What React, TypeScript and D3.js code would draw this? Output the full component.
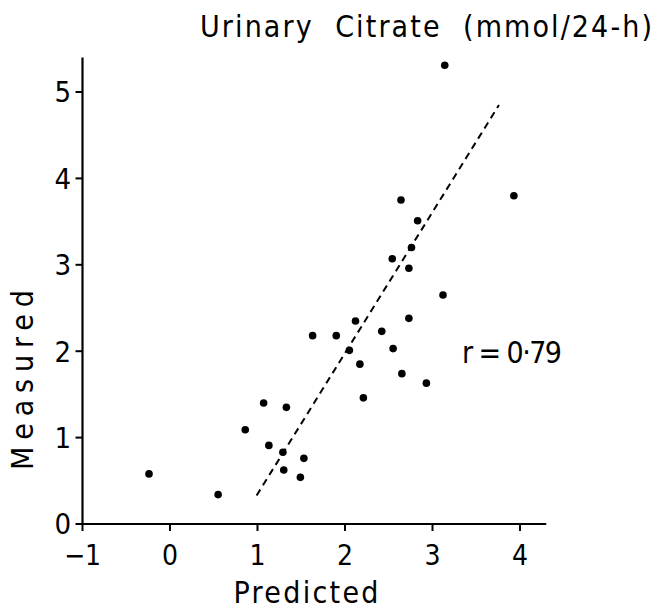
import React from "react";
import * as d3 from "d3";

const predicted = [3.14, 3.93, 2.64, 2.83, 2.76, 2.54, 2.73, 3.12, 2.73, 2.12, 1.63, 1.9, 2.42, 2.05, 2.55, 2.17, 2.65, 2.93, 2.21, 1.07, 1.33, 0.86, 1.13, 1.29, 1.53, 1.3, 1.49, -0.24, 0.55];
const measured = [5.31, 3.8, 3.75, 3.51, 3.2, 3.07, 2.96, 2.65, 2.38, 2.35, 2.18, 2.18, 2.23, 2.01, 2.03, 1.85, 1.74, 1.63, 1.46, 1.4, 1.35, 1.09, 0.91, 0.83, 0.76, 0.625, 0.54, 0.58, 0.34];
const regressionX = [0.99, 3.76];
const regressionY = [0.33, 4.85];
const xTicks = [-1, 0, 1, 2, 3, 4];
const yTicks = [0, 1, 2, 3, 4, 5];
const xTickLabels = ["\u22121", "0", "1", "2", "3", "4"];
const yTickLabels = ["0", "1", "2", "3", "4", "5"];
const title = "Urinary  Citrate  (mmol/24-h)";
const xLabel = "Predicted";
const yLabel = "Measured";
const annotation = "r = 0\u00b779";

const FONT = "'DejaVu Sans Condensed', 'DejaVu Sans', sans-serif";

export default function App() {
  const x = d3.scaleLinear().domain([-1, 4]).range([82.5, 520]);
  const y = d3.scaleLinear().domain([0, 5]).range([524, 92]);
  const xEnd = x(4.3);
  const yTop = y(5.4);
  const line = d3
    .line<number>()
    .x((d) => x(regressionX[d]))
    .y((d) => y(regressionY[d]));

  return (
    <svg
      width={657}
      height={610}
      style={{ position: "absolute", left: 0, top: 0, background: "#fff" }}
      fontFamily={FONT}
      fontStretch="condensed"
      fontWeight={300}
    >
      <rect width={657} height={610} fill="#fff" />
      <text x={200} y={37} fontSize={30} fill="#000" style={{ whiteSpace: "pre" }} textLength={452} lengthAdjust="spacing">
        {title}
      </text>
      {/* axes */}
      <line x1={x(-1)} x2={xEnd} y1={y(0)} y2={y(0)} stroke="#000" strokeWidth={2.2} />
      <line x1={x(-1)} x2={x(-1)} y1={y(0)} y2={yTop} stroke="#000" strokeWidth={2.2} />
      {xTicks.map((t, i) => (
        <g key={"xt" + t}>
          <line x1={x(t)} x2={x(t)} y1={y(0)} y2={y(0) + 7} stroke="#000" strokeWidth={2} />
          <text x={x(t)} y={565} fontSize={28} textAnchor="middle" fill="#000">
            {xTickLabels[i]}
          </text>
        </g>
      ))}
      {yTicks.map((t, i) => (
        <g key={"yt" + t}>
          <line x1={x(-1) - 7} x2={x(-1)} y1={y(t)} y2={y(t)} stroke="#000" strokeWidth={2} />
          <text x={71} y={y(t)} dy="0.36em" fontSize={29} textAnchor="end" fill="#000">
            {yTickLabels[i]}
          </text>
        </g>
      ))}
      <text x={306} y={603} fontSize={30} textAnchor="middle" fill="#000" textLength={145} lengthAdjust="spacing">
        {xLabel}
      </text>
      <text
        transform={`translate(33,${380}) rotate(-90)`}
        fontSize={30}
        textAnchor="middle"
        fill="#000"
        textLength={180}
        lengthAdjust="spacing"
      >
        {yLabel}
      </text>
      <path
        d={line([0, 1]) || ""}
        fill="none"
        stroke="#000"
        strokeWidth={2}
        strokeDasharray="7 5"
      />
      {predicted.map((p, i) => (
        <circle key={i} cx={x(p)} cy={y(measured[i])} r={3.8} fill="#000" />
      ))}
      <text x={462} y={363} fontSize={30} fill="#000" textLength={100} lengthAdjust="spacing">
        {annotation}
      </text>
    </svg>
  );
}
